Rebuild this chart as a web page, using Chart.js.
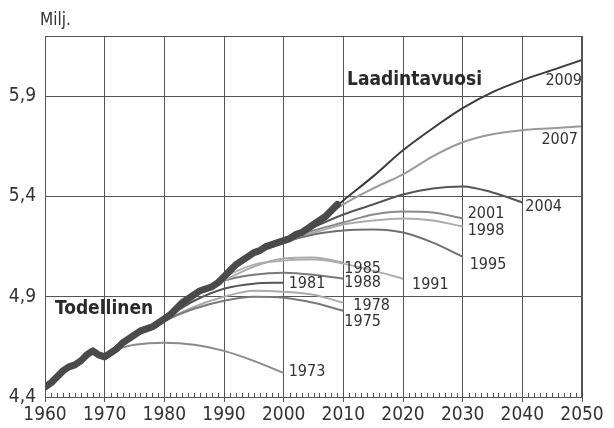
<!DOCTYPE html>
<html><head><meta charset="utf-8">
<script src="https://cdn.jsdelivr.net/npm/chart.js@4"></script>
<style>html,body{margin:0;padding:0;background:#fff}#wrap{width:614px;height:428px;position:relative}</style>
</head><body><div id="wrap"><canvas id="c" width="614" height="428"></canvas></div>
<script>
// ---- data ----
const actualYears = [1960,1961,1962,1963,1964,1965,1966,1967,1968,1969,1970,1971,1972,1973,1974,1975,1976,1977,1978,1979,1980,1981,1982,1983,1984,1985,1986,1987,1988,1989,1990,1991,1992,1993,1994,1995,1996,1997,1998,1999,2000,2001,2002,2003,2004,2005,2006,2007,2008,2009];
const actualValues = [4.45,4.47,4.50,4.53,4.55,4.56,4.58,4.61,4.63,4.61,4.60,4.62,4.64,4.67,4.69,4.71,4.73,4.74,4.75,4.77,4.79,4.81,4.84,4.87,4.89,4.91,4.93,4.94,4.95,4.97,5.00,5.03,5.06,5.08,5.10,5.12,5.13,5.15,5.16,5.17,5.18,5.19,5.21,5.22,5.24,5.26,5.28,5.30,5.33,5.36];

const p1973Years = [1972,1975,1980,1985,1990,1995,2000];
const p1973Values = [4.64,4.66,4.67,4.66,4.63,4.58,4.52];
const p1975Years = [1974,1980,1985,1990,1995,2000,2005,2010];
const p1975Values = [4.69,4.78,4.84,4.88,4.90,4.895,4.87,4.83];
const p1978Years = [1977,1980,1985,1990,1995,2000,2005,2010];
const p1978Values = [4.74,4.78,4.85,4.90,4.93,4.925,4.91,4.87];
const p1981Years = [1980,1985,1990,1995,2000];
const p1981Values = [4.79,4.88,4.94,4.965,4.97];
const p1985Years = [1984,1990,1995,2000,2005,2010];
const p1985Values = [4.89,4.98,5.05,5.09,5.095,5.07];
const p1988Years = [1987,1990,1995,2000,2005,2010];
const p1988Values = [4.94,4.98,5.01,5.02,5.01,4.99];
const p1991Years = [1990,1995,2000,2005,2010,2015,2020];
const p1991Values = [5.00,5.06,5.08,5.085,5.065,5.03,4.99];
const p1995Years = [1994,2000,2005,2010,2015,2020,2025,2030];
const p1995Values = [5.10,5.17,5.21,5.23,5.235,5.22,5.17,5.10];
const p1998Years = [1997,2000,2005,2010,2015,2020,2025,2030];
const p1998Values = [5.15,5.18,5.22,5.26,5.28,5.29,5.28,5.25];
const p2001Years = [2000,2005,2010,2015,2020,2025,2030];
const p2001Values = [5.18,5.23,5.27,5.31,5.325,5.32,5.29];
const p2004Years = [2003,2010,2015,2020,2025,2030,2035,2040];
const p2004Values = [5.22,5.31,5.36,5.41,5.44,5.45,5.42,5.37];
const p2007Years = [2006,2010,2015,2020,2025,2030,2035,2040,2045,2050];
const p2007Values = [5.28,5.36,5.44,5.51,5.60,5.67,5.71,5.73,5.74,5.75];
const p2009Years = [2008,2010,2015,2020,2025,2030,2035,2040,2045,2050];
const p2009Values = [5.33,5.38,5.50,5.63,5.74,5.84,5.92,5.98,6.03,6.08];

const xTickLabels = ['1960','1970','1980','1990','2000','2010','2020','2030','2040','2050'];
const yTickLabels = ['4,4','4,9','5,4','5,9'];

// ---- styling ----
const FAMILY = '"DejaVu Sans", sans-serif';
const projections = [
  {name:'1973', years:p1973Years, values:p1973Values, color:'#8a8a8a', dx:5, dy:-1, align:'left'},
  {name:'1975', years:p1975Years, values:p1975Values, color:'#7a7a7a', dx:1, dy:11, align:'left'},
  {name:'1978', years:p1978Years, values:p1978Values, color:'#ababab', dx:10, dy:3, align:'left'},
  {name:'1981', years:p1981Years, values:p1981Values, color:'#555555', dx:5, dy:1, align:'left'},
  {name:'1985', years:p1985Years, values:p1985Values, color:'#ababab', dx:1, dy:6, align:'left'},
  {name:'1988', years:p1988Years, values:p1988Values, color:'#7a7a7a', dx:1, dy:4, align:'left'},
  {name:'1991', years:p1991Years, values:p1991Values, color:'#b0b0b0', dx:9, dy:6, align:'left'},
  {name:'1995', years:p1995Years, values:p1995Values, color:'#707070', dx:7, dy:8, align:'left'},
  {name:'1998', years:p1998Years, values:p1998Values, color:'#acacac', dx:5, dy:4, align:'left'},
  {name:'2001', years:p2001Years, values:p2001Values, color:'#8a8a8a', dx:5, dy:-5, align:'left'},
  {name:'2004', years:p2004Years, values:p2004Values, color:'#555555', dx:3, dy:4, align:'left'},
  {name:'2007', years:p2007Years, values:p2007Values, color:'#9a9a9a', dx:-4, dy:14, align:'right'},
  {name:'2009', years:p2009Years, values:p2009Values, color:'#3c3c3c', dx:0, dy:21, align:'right'}
];

const toPts = (xs, ys) => xs.map((x, i) => ({x, y: ys[i]}));

const datasets = [{
  label:'Todellinen', data: toPts(actualYears, actualValues),
  borderColor:'#4a4a4a', borderWidth:7, pointRadius:0, tension:0,
  borderJoinStyle:'round', borderCapStyle:'round', order:0
}];
projections.forEach(p => datasets.push({
  label:p.name, data: toPts(p.years, p.values),
  borderColor:p.color, borderWidth:2, pointRadius:0,
  cubicInterpolationMode:'monotone', order:1, _lab:p
}));

const gridColor = '#555';

const decorPlugin = {
  id:'decor',
  afterDraw(chart) {
    const {ctx, chartArea:a, scales:{x, y}} = chart;
    ctx.save();
    ctx.strokeStyle = gridColor; ctx.lineWidth = 1;
    ctx.strokeRect(Math.round(a.left)+0.5, Math.round(a.top)+0.5, Math.round(a.right-a.left)-1, Math.round(a.bottom-a.top));
    // minor yearly ticks
    ctx.beginPath();
    for (let yr = x.min; yr <= x.max; yr++) {
      if (yr % 10 === 0) continue;
      const px = Math.round(x.getPixelForValue(yr)) + 0.5;
      ctx.moveTo(px, a.bottom); ctx.lineTo(px, a.bottom - 4);
    }
    ctx.stroke();
    // series end labels
    ctx.fillStyle = '#333';
    ctx.font = 'condensed 16px ' + FAMILY;
    ctx.textBaseline = 'middle';
    chart.data.datasets.forEach((ds) => {
      if (!ds._lab) return;
      const last = ds.data[ds.data.length - 1];
      const px = x.getPixelForValue(last.x), py = y.getPixelForValue(last.y);
      ctx.textAlign = ds._lab.align;
      ctx.fillText(ds._lab.name, px + ds._lab.dx, py + ds._lab.dy);
    });
    ctx.font = 'bold condensed 19px ' + FAMILY;
    ctx.fillStyle = '#2a2a2a';
    ctx.textAlign = 'left';
    ctx.fillText('Laadintavuosi', 347, 80);
    ctx.fillText('Todellinen', 55, 309);
    ctx.font = 'condensed 17px ' + FAMILY;
    ctx.fillStyle = '#333';
    ctx.fillText('Milj.', 40, 21);
    ctx.restore();
  }
};

new Chart(document.getElementById('c'), {
  type:'line',
  data:{datasets},
  plugins:[decorPlugin],
  options:{
    responsive:false, animation:false, devicePixelRatio:1,
    layout:{padding:{top:36, right:32, left:0, bottom:0}},
    plugins:{legend:{display:false}, tooltip:{enabled:false}},
    scales:{
      x:{type:'linear', min:1960, max:2050,
        afterFit(s){ s.height = 31; },
        afterBuildTicks(s){ s.ticks = xTickLabels.map(t => ({value:+t})); },
        ticks:{color:'#333', font:{family:FAMILY, size:19, weight:'condensed'}, padding:2, maxRotation:0,
          callback:(v) => xTickLabels.find(t => +t === v) || ''},
        grid:{color:gridColor, lineWidth:1, tickLength:5, drawTicks:true},
        border:{color:gridColor}
      },
      y:{type:'linear', min:4.4, max:6.2,
        afterFit(s){ s.width = 45; },
        afterBuildTicks(s){ s.ticks = yTickLabels.map(t => ({value:parseFloat(t.replace(',', '.'))})); },
        ticks:{color:'#333', font:{family:FAMILY, size:19, weight:'condensed'}, padding:9,
          callback:(v) => yTickLabels.find(t => Math.abs(parseFloat(t.replace(',', '.')) - v) < 1e-6) || ''},
        grid:{color:gridColor, lineWidth:1, tickLength:0, drawTicks:false},
        border:{color:gridColor}
      }
    }
  }
});
</script>
</body></html>
